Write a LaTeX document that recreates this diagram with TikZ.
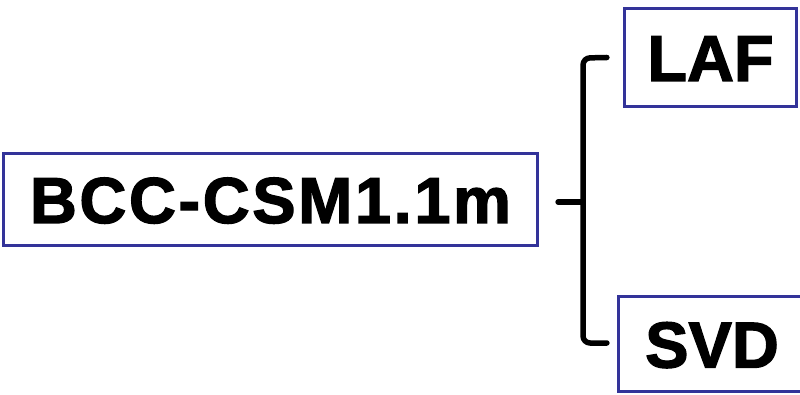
\documentclass[tikz,border=0pt]{standalone}
\usepackage{fontspec}
\setmainfont{Liberation Sans}[BoldFeatures={FakeBold=2}]
\usetikzlibrary{calc}
\definecolor{boxblue}{RGB}{51,51,153}
\tikzset{
  labelbox/.style={draw=boxblue, line width=3.2pt, fill=white, inner sep=0pt,
    text height=47pt, text depth=0pt,
    font=\fontsize{65}{70}\selectfont\bfseries},
  bracketline/.style={line width=5.5pt, line cap=round, line join=round, rounded corners=7pt}
}
\begin{document}
\begin{tikzpicture}[x=1pt,y=-1pt]
\useasboundingbox (0,0) rectangle (800,395);
\node[labelbox, minimum width=534pt, minimum height=92pt] (bcc) at (270.5,199.5)
  {\addfontfeature{LetterSpace=4}BCC-CSM1.1m};
\node[labelbox, minimum width=172pt, minimum height=98pt] (laf) at (710.5,57.5) {LAF};
\node[labelbox, minimum width=187pt, minimum height=95pt] (svd) at (712,344) {SVD};
\coordinate (top) at ($(laf.west)+(-16,0)$);
\coordinate (bot) at ($(svd.west)+(-10,-1)$);
\coordinate (mid) at ($(bcc.east)+(19,2.5)$);
\draw[bracketline] (top) -- (583,58) -- (583,343) -- (bot);
\draw[bracketline] (mid) -- (583,202);
\end{tikzpicture}
\end{document}
